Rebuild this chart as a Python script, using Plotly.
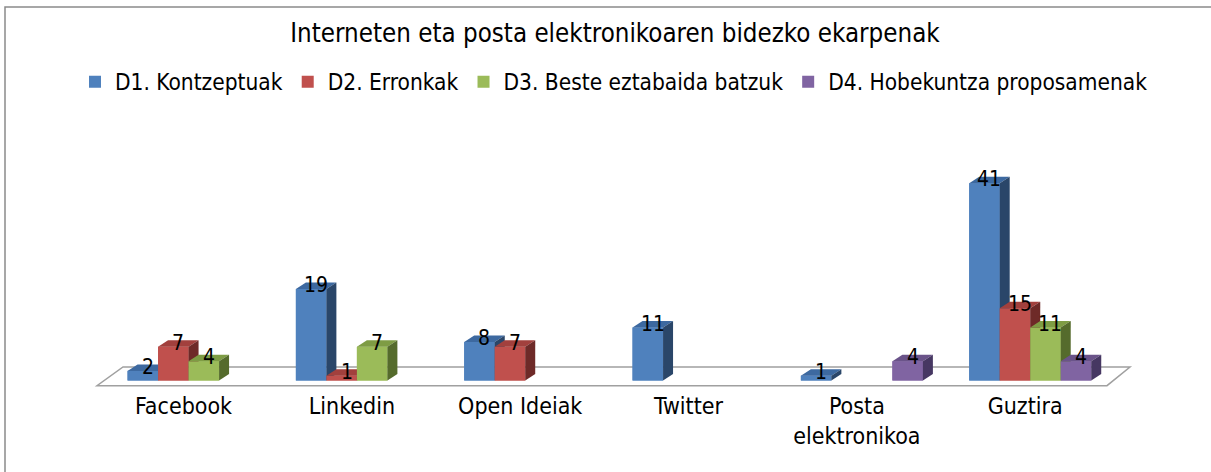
import plotly.graph_objects as go

# ---------------- data ----------------
categories = ["Facebook", "Linkedin", "Open Ideiak", "Twitter", "Posta<br>elektronikoa", "Guztira"]
series_names = ["D1. Kontzeptuak", "D2. Erronkak", "D3. Beste eztabaida batzuk", "D4. Hobekuntza proposamenak"]
d1_kontzeptuak = [2, 19, 8, 11, 1, 41]
d2_erronkak = [7, 1, 7, None, None, 15]
d3_beste = [4, 7, None, None, None, 11]
d4_hobekuntza = [None, None, None, None, 4, 4]
series_values = [d1_kontzeptuak, d2_erronkak, d3_beste, d4_hobekuntza]
title_text = "Interneten eta posta elektronikoaren bidezko ekarpenak"

# ---------------- style ----------------
front_colors = ["#4F81BD", "#C0504D", "#9BBB59", "#8064A2"]
top_colors = ["#3D69A0", "#A2403D", "#7E9C44", "#6A5389"]
side_colors = ["#2A4669", "#6E2A28", "#556B2C", "#463762"]
FONT = "DejaVu Sans Condensed, Tahoma, DejaVu Sans, sans-serif"

W, H = 1211, 472
ML, MR, MT, MB = 20, 20, 150, 82
PW = W - ML - MR
PH = H - MT - MB
PX_PER_UNIT = 4.81           # vertical pixels per value unit
BASE_PX = 380.5              # y pixel of value 0 (from top)
CAT_PX = 168.33              # horizontal pixels per category
CAT_LEFT_PX = 104.4          # pixel of the left edge of the first category
ncat = len(categories)
CAT_LO, CAT_HI = -0.5, ncat - 0.5
x_lo = CAT_LO - (CAT_LEFT_PX - ML) / CAT_PX
x_hi = x_lo + PW / CAT_PX
y_lo = -(H - MB - BASE_PX) / PX_PER_UNIT
y_hi = (BASE_PX - MT) / PX_PER_UNIT
BARGAP = 0.275
nser = len(series_names)
bw = (1 - BARGAP) / nser
DEPTH_X = 10 / CAT_PX
DEPTH_Y = 6.5 / PX_PER_UNIT
TICK_SHIFT = -5 / CAT_PX

fig = go.Figure()

# real bars (front faces)
for i, (name, vals) in enumerate(zip(series_names, series_values)):
    fig.add_trace(go.Bar(
        x=list(range(ncat)), y=vals, name=name,
        width=bw, offset=-(1 - BARGAP) / 2 + i * bw,
        marker=dict(color=front_colors[i], line=dict(width=0)),
    ))

# 3D faces drawn in painter's order
def poly(xs, ys, color):
    fig.add_trace(go.Scatter(
        x=xs + [xs[0]], y=ys + [ys[0]], mode="lines", fill="toself",
        fillcolor=color, line=dict(width=0, color=color),
        showlegend=False, hoverinfo="skip",
    ))

annotations = []
for j in range(ncat):
    for i in range(nser):
        v = series_values[i][j]
        if v is None:
            continue
        xl = j - (1 - BARGAP) / 2 + i * bw
        xr = xl + bw
        poly([xl, xr, xr, xl], [0, 0, v, v], front_colors[i])
        poly([xl, xr, xr + DEPTH_X, xl + DEPTH_X], [v, v, v + DEPTH_Y, v + DEPTH_Y], top_colors[i])
        poly([xr, xr + DEPTH_X, xr + DEPTH_X, xr], [0, DEPTH_Y, v + DEPTH_Y, v], side_colors[i])
        annotations.append(dict(
            x=(xl + xr) / 2, y=v, text=str(v), showarrow=False,
            xshift=5, yshift=4, yanchor="middle", xanchor="center",
            font=dict(family=FONT, size=21, color="#000000"),
        ))

# floor
fx0 = -7.4 / CAT_PX
fy0 = -5.2 / PX_PER_UNIT
fbx_l = 18.6 / CAT_PX
fbx_r = 15.6 / CAT_PX
fby = 13.5 / PX_PER_UNIT
floor_path = (f"M {CAT_LO + fx0},{fy0} L {CAT_HI + fx0},{fy0} "
              f"L {CAT_HI + fbx_r},{fby} L {CAT_LO + fbx_l},{fby} Z")

shapes = [
    dict(type="path", path=floor_path, xref="x", yref="y", layer="below",
         fillcolor="#FFFFFF", line=dict(color="#A0A0A0", width=1.5)),
    dict(type="rect", xref="paper", yref="paper",
         x0=(5 - ML) / PW, x1=(W + 10 - ML) / PW,
         y0=-(MB + 10) / PH, y1=1 + (MT - 7) / PH,
         line=dict(color="#8A8A8A", width=1.5), fillcolor="rgba(0,0,0,0)", layer="below"),
]

fig.update_layout(
    width=W, height=H,
    margin=dict(l=ML, r=MR, t=MT, b=MB),
    paper_bgcolor="#FFFFFF", plot_bgcolor="rgba(0,0,0,0)",
    barmode="overlay",
    title=dict(text=title_text, x=615 / W, xanchor="center", xref="container",
               y=1 - 33 / H, yanchor="middle", yref="container",
               font=dict(family=FONT, size=25.7, color="#000000")),
    legend=dict(orientation="h", xref="container", x=614 / W, xanchor="center",
                yref="container", y=1 - 82 / H, yanchor="middle",
                font=dict(family=FONT, size=22.5, color="#000000"),
                traceorder="normal", itemclick=False),
    xaxis=dict(range=[x_lo, x_hi], tickvals=[j + TICK_SHIFT for j in range(ncat)],
               ticktext=categories, showgrid=False, zeroline=False, showline=False,
               ticks="", tickfont=dict(family=FONT, size=23, color="#000000"),
               fixedrange=True),
    yaxis=dict(range=[y_lo, y_hi], visible=False, fixedrange=True),
    shapes=shapes,
    annotations=annotations,
    showlegend=True,
)

fig.write_html("out.html", config={"displayModeBar": False},
               post_script="document.body.style.margin='0';")
